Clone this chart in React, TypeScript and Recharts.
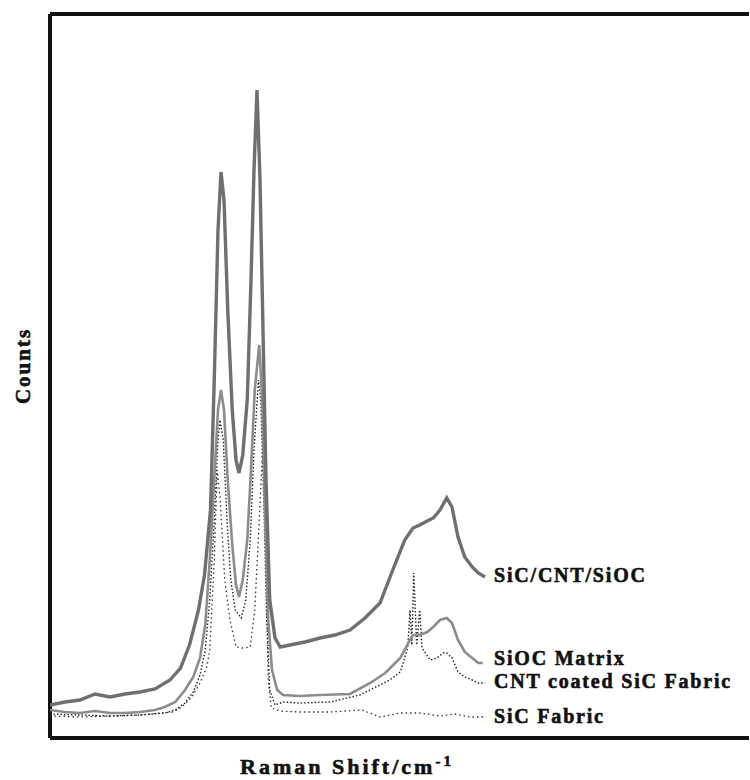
import { LineChart, Line, XAxis, YAxis, ReferenceLine } from "recharts";

// Raman shift (cm-1) and counts (a.u.)
const compositeShift = [200, 300, 400, 500, 600, 700, 800, 900, 1000, 1070, 1130, 1190, 1230, 1270, 1295, 1320, 1340, 1360, 1385, 1415, 1440, 1460, 1485, 1515, 1540, 1560, 1580, 1600, 1620, 1640, 1665, 1700, 1735, 1800, 1900, 2000, 2100, 2200, 2300, 2400, 2485, 2565, 2620, 2665, 2715, 2755, 2800, 2845, 2880, 2920, 2965, 3015, 3055, 3100];
const compositeCounts = [330, 360, 380, 440, 410, 440, 460, 490, 580, 700, 930, 1280, 1630, 2280, 3580, 5080, 5660, 5380, 4280, 3280, 2780, 2650, 2830, 3380, 4580, 5680, 6480, 5580, 4080, 2580, 1380, 1000, 910, 930, 960, 1000, 1030, 1080, 1200, 1350, 1680, 1980, 2100, 2130, 2170, 2200, 2280, 2400, 2310, 2010, 1810, 1710, 1650, 1610];

const matrixShift = [200, 300, 400, 500, 600, 700, 800, 900, 965, 1035, 1100, 1155, 1200, 1235, 1265, 1295, 1320, 1340, 1360, 1385, 1415, 1440, 1460, 1485, 1515, 1540, 1565, 1595, 1615, 1635, 1655, 1680, 1715, 1755, 1865, 2000, 2200, 2335, 2435, 2535, 2600, 2620, 2665, 2715, 2755, 2800, 2845, 2880, 2920, 2965, 3015, 3055, 3085];
const matrixCounts = [280, 260, 250, 270, 250, 250, 260, 280, 310, 360, 480, 610, 800, 1130, 1780, 2580, 3280, 3480, 3280, 2580, 1930, 1530, 1410, 1580, 1980, 2680, 3480, 3930, 3380, 2180, 1180, 680, 480, 430, 420, 430, 440, 550, 650, 800, 980, 1030, 1030, 1060, 1110, 1180, 1200, 1150, 980, 860, 800, 750, 750];

const coatedShift = [200, 400, 600, 800, 965, 1035, 1100, 1155, 1200, 1235, 1265, 1295, 1320, 1333, 1355, 1380, 1405, 1435, 1475, 1505, 1535, 1560, 1590, 1605, 1625, 1645, 1665, 1700, 1755, 1865, 2070, 2265, 2465, 2535, 2565, 2585, 2600, 2612, 2625, 2645, 2665, 2680, 2735, 2780, 2820, 2845, 2880, 2920, 2965, 3015, 3055, 3100];
const coatedCounts = [240, 230, 220, 230, 250, 280, 350, 460, 630, 880, 1380, 2180, 2980, 3180, 2980, 2180, 1580, 1280, 1200, 1380, 1980, 2880, 3580, 3380, 2380, 1180, 480, 330, 360, 350, 360, 430, 580, 660, 800, 910, 1280, 930, 1650, 930, 1280, 900, 780, 800, 850, 850, 800, 660, 610, 580, 550, 550];

const fabricShift = [200, 400, 600, 800, 1020, 1080, 1145, 1200, 1245, 1265, 1295, 1315, 1335, 1365, 1400, 1440, 1485, 1535, 1565, 1595, 1620, 1640, 1655, 1675, 1735, 1865, 2065, 2280, 2400, 2535, 2665, 2800, 2900, 3000, 3100];
const fabricCounts = [220, 210, 220, 230, 260, 310, 410, 550, 710, 880, 1780, 2680, 2380, 1580, 1180, 910, 900, 910, 1280, 2180, 2980, 1780, 580, 300, 270, 260, 260, 280, 210, 250, 250, 220, 240, 210, 210];

const seriesLabels = ["SiC/CNT/SiOC", "SiOC Matrix", "CNT coated SiC Fabric", "SiC Fabric"];

const zip = (xs: number[], ys: number[]) => xs.map((x, i) => ({ x, y: ys[i] }));

const composite = zip(compositeShift, compositeCounts);
const matrix = zip(matrixShift, matrixCounts);
const coated = zip(coatedShift, coatedCounts);
const fabric = zip(fabricShift, fabricCounts);

const X_MIN = 200;
const X_MAX = 4860;
const Y_MAX = 7240;

const labelY = [582, 665, 688, 723];
const serif = "'Liberation Serif', 'Times New Roman', serif";

export default function App() {
  return (
    <div style={{ position: "absolute", left: 0, top: 0, width: 750, height: 780, background: "#fff" }}>
      <LineChart width={750} height={780} data={composite} margin={{ top: 14, right: 1, bottom: 42, left: 50 }}>
        <XAxis type="number" dataKey="x" domain={[X_MIN, X_MAX]} hide allowDataOverflow />
        <YAxis type="number" domain={[0, Y_MAX]} hide allowDataOverflow />
        <ReferenceLine y={Y_MAX} stroke="#111" strokeWidth={4} />
        <ReferenceLine y={0} stroke="#111" strokeWidth={4} />
        <ReferenceLine x={X_MIN} stroke="#111" strokeWidth={4} />
        <Line data={fabric} dataKey="y" type="linear" stroke="#333" strokeWidth={1.3} strokeDasharray="1.5 3" dot={false} isAnimationActive={false} />
        <Line data={coated} dataKey="y" type="linear" stroke="#222" strokeWidth={1.4} strokeDasharray="1.5 2" dot={false} isAnimationActive={false} />
        <Line data={matrix} dataKey="y" type="linear" stroke="#8c8c8c" strokeWidth={2.6} dot={false} isAnimationActive={false} />
        <Line data={composite} dataKey="y" type="linear" stroke="#6f6f6f" strokeWidth={3.4} dot={false} isAnimationActive={false} />
      </LineChart>
      <svg width={750} height={780} style={{ position: "absolute", left: 0, top: 0, pointerEvents: "none" }}>
        {seriesLabels.map((t, i) => (
          <text key={t} x={494} y={labelY[i]} fontFamily={serif} fontWeight="bold" fontSize={20} letterSpacing={1.8} fill="#111" stroke="#111" strokeWidth={0.6}>
            {t}
          </text>
        ))}
        <text x={30} y={366} transform="rotate(-90 30 366)" textAnchor="middle" fontFamily={serif} fontWeight="bold" fontSize={21} letterSpacing={2} fill="#111" stroke="#111" strokeWidth={0.6}>
          Counts
        </text>
        <text x={240} y={774} fontFamily={serif} fontWeight="bold" fontSize={22} letterSpacing={3} fill="#111" stroke="#111" strokeWidth={0.6}>
          Raman Shift/cm
          <tspan dy={-8} fontSize={15}>-1</tspan>
        </text>
      </svg>
    </div>
  );
}
